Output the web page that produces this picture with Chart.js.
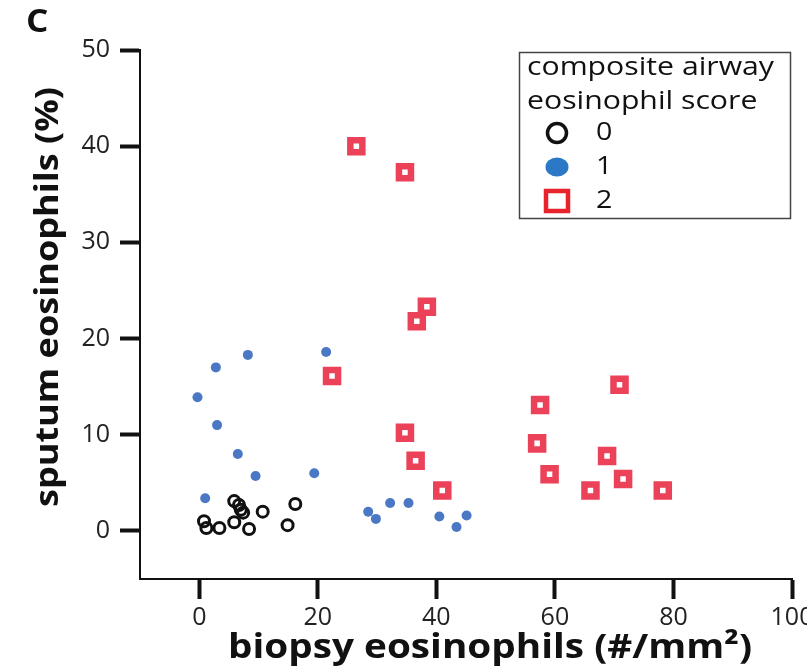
<!DOCTYPE html>
<html>
<head>
<meta charset="utf-8">
<script src="https://cdn.jsdelivr.net/npm/chart.js@4.4.1/dist/chart.umd.min.js"></script>
<style>
  html, body { margin: 0; padding: 0; background: #fff; }
</style>
</head>
<body>
<canvas id="scatter" width="807" height="667"></canvas>
<script>
// values
var score0X = [5.9, 6.7, 7.0, 7.4, 10.7, 16.2, 0.8, 1.2, 3.4, 5.9, 8.4, 14.9];
var score0Y = [3.1, 2.7, 2.2, 1.9, 2.0, 2.8, 1.0, 0.3, 0.3, 0.9, 0.2, 0.6];
var score1X = [-0.3, 2.8, 8.2, 21.4, 3.0, 6.5, 9.5, 19.4, 1.0, 28.5, 29.8, 32.2, 35.3, 40.5, 43.4, 45.1];
var score1Y = [13.9, 17.0, 18.3, 18.6, 11.0, 8.0, 5.7, 6.0, 3.4, 2.0, 1.25, 2.9, 2.9, 1.5, 0.4, 1.6];
var score2X = [26.5, 34.7, 38.4, 36.7, 22.4, 34.7, 36.5, 41.0, 57.5, 57.0, 59.1, 70.9, 68.8, 71.5, 66.0, 78.2];
var score2Y = [40.0, 37.3, 23.3, 21.8, 16.1, 10.2, 7.3, 4.2, 13.1, 9.1, 5.9, 15.2, 7.8, 5.4, 4.2, 4.2];
var xTicks = [0, 20, 40, 60, 80, 100];
var yTicks = [0, 10, 20, 30, 40, 50];
var xTitle = 'biopsy eosinophils (#/mm\u00b2)';
var yTitle = 'sputum eosinophils (%)';
var legendTitle = ['composite airway', 'eosinophil score'];
var legendLabels = ['0', '1', '2'];

var FONT = "'Open Sans', 'Noto Sans', sans-serif";

function toPoints(xs, ys) {
    return xs.map(function (x, i) { return { x: x, y: ys[i] }; });
}

// the figure's lettering is a bit wider than Open Sans, so stretch it along the line
function stretchedText(ctx, text, x, y, sx, rotate) {
    ctx.save();
    ctx.translate(x, y);
    if (rotate) ctx.rotate(-Math.PI / 2);
    ctx.scale(sx, 1);
    ctx.fillText(text, 0, 0);
    ctx.restore();
}

// panel letter, axis titles and the legend box
var extras = {
    id: 'extras',
    afterDraw: function (chart) {
        var ctx = chart.ctx;
        ctx.save();
        ctx.fillStyle = '#111';
        ctx.textBaseline = 'middle';
        ctx.textAlign = 'left';
        ctx.font = 'bold 32px ' + FONT;
        stretchedText(ctx, 'C', 26, 23, 1.1, false);

        ctx.textAlign = 'center';
        ctx.font = 'bold 34px ' + FONT;
        var sx = 524 / ctx.measureText(xTitle).width;
        stretchedText(ctx, xTitle, 490, 648, sx, false);

        ctx.font = 'bold 33px ' + FONT;
        var sy = 420 / ctx.measureText(yTitle).width;
        stretchedText(ctx, yTitle, 49, 297, sy, true);

        // legend
        ctx.strokeStyle = '#444';
        ctx.lineWidth = 1.5;
        ctx.strokeRect(519.5, 52.5, 271, 166);
        ctx.textAlign = 'left';
        ctx.font = '25px ' + FONT;
        var sl = 247 / ctx.measureText(legendTitle[0]).width;
        stretchedText(ctx, legendTitle[0], 527, 68, sl, false);
        stretchedText(ctx, legendTitle[1], 527, 102, sl, false);
        var rows = [133, 167, 201];
        ctx.font = '26px ' + FONT;
        legendLabels.forEach(function (lab, i) {
            stretchedText(ctx, lab, 596, rows[i], 1.1, false);
        });
        // markers
        ctx.lineWidth = 3.5;
        ctx.strokeStyle = '#111';
        ctx.beginPath();
        ctx.arc(557, rows[0], 9.5, 0, Math.PI * 2);
        ctx.stroke();
        ctx.fillStyle = '#2a78c6';
        ctx.beginPath();
        ctx.ellipse(557, rows[1], 11.5, 9.5, 0, 0, Math.PI * 2);
        ctx.fill();
        ctx.strokeStyle = '#e8232b';
        ctx.lineWidth = 4.5;
        ctx.strokeRect(546, rows[2] - 10, 22, 20);
        ctx.restore();
    }
};

var ctx = document.getElementById('scatter').getContext('2d');

var chart = new Chart(ctx, {
    type: 'scatter',
    data: {
        datasets: [{
            label: '0',
            data: toPoints(score0X, score0Y),
            pointStyle: 'circle',
            pointRadius: 5.5,
            pointBorderWidth: 3,
            borderColor: '#111',
            backgroundColor: 'rgba(0,0,0,0)'
        }, {
            label: '1',
            data: toPoints(score1X, score1Y),
            pointStyle: 'circle',
            pointRadius: 5,
            pointBorderWidth: 0,
            borderColor: '#4a78c4',
            backgroundColor: '#4a78c4'
        }, {
            label: '2',
            data: toPoints(score2X, score2Y),
            pointStyle: 'rect',
            pointRadius: 8.5,
            pointBorderWidth: 6.5,
            borderColor: '#eb4159',
            backgroundColor: '#ffffff'
        }]
    },
    options: {
        responsive: false,
        animation: false,
        layout: {
            padding: { top: 50, right: 12, left: 0, bottom: 0 }
        },
        plugins: {
            legend: { display: false },
            tooltip: { enabled: false }
        },
        scales: {
            x: {
                type: 'linear',
                min: -10,
                max: 100,
                afterBuildTicks: function (axis) {
                    axis.ticks = xTicks.map(function (v) { return { value: v }; });
                },
                afterFit: function (axis) {
                    axis.height = 88;
                    axis.paddingLeft = 0;
                    axis.paddingRight = 0;
                },
                border: { display: true, color: '#111', width: 2 },
                grid: {
                    drawOnChartArea: false,
                    drawTicks: true,
                    tickLength: 20,
                    tickWidth: 4,
                    tickColor: '#111'
                },
                ticks: {
                    color: '#222',
                    padding: 4,
                    maxRotation: 0,
                    font: { family: FONT, size: 25 }
                }
            },
            y: {
                type: 'linear',
                min: -5,
                max: 50,
                afterBuildTicks: function (axis) {
                    axis.ticks = yTicks.map(function (v) { return { value: v }; });
                },
                afterFit: function (axis) {
                    axis.width = 140;
                    axis.paddingTop = 0;
                    axis.paddingBottom = 0;
                },
                border: { display: true, color: '#111', width: 2 },
                grid: {
                    drawOnChartArea: false,
                    drawTicks: true,
                    tickLength: 20,
                    tickWidth: 4,
                    tickColor: '#111'
                },
                ticks: {
                    color: '#222',
                    padding: 10,
                    font: { family: FONT, size: 25 }
                }
            }
        }
    },
    plugins: [extras]
});
</script>
</body>
</html>
